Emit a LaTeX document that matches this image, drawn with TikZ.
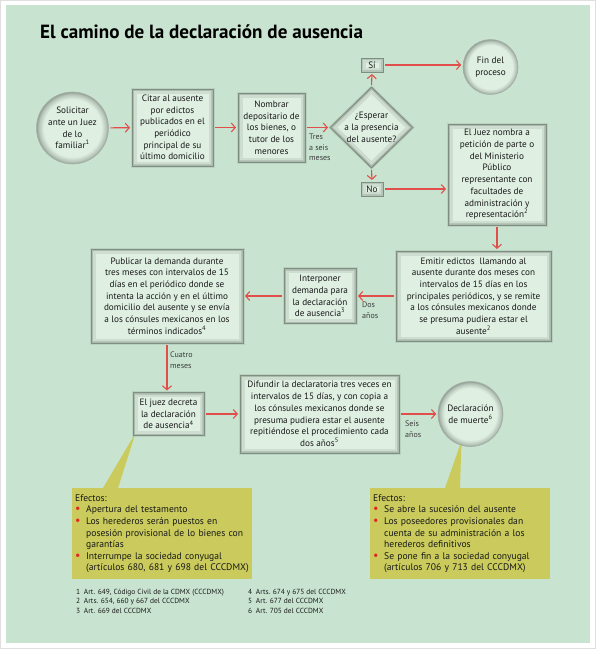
\documentclass[tikz,border=0pt]{standalone}
\usepackage{fontspec}
\setmainfont{PT Sans}
\usepackage{tikz}
\usetikzlibrary{positioning,shapes.geometric,arrows.meta,backgrounds,calc}
\definecolor{pagegreen}{RGB}{200,228,208}
\definecolor{boxfill}{RGB}{223,239,226}
\definecolor{boxedge}{RGB}{128,142,130}
\definecolor{arrowred}{RGB}{226,78,74}
\definecolor{calloutyellow}{RGB}{202,203,92}
\definecolor{bulletred}{RGB}{226,38,38}
\definecolor{textdark}{RGB}{24,24,24}
\newcommand{\bodyfont}{\fontsize{9.2}{11.7}\selectfont}
\newcommand{\effectfont}{\fontsize{9.6}{11.6}\selectfont}
\newcommand{\labelfont}{\fontsize{8}{10.4}\selectfont}
\newcommand{\notefont}{\fontsize{7.4}{9.3}\selectfont}
\newcommand{\efbullet}{\makebox[11pt][l]{\textcolor{bulletred}{\large\textbullet}}}
\newcommand{\efindent}{\hspace*{11pt}}
\pgfdeclareradialshading{ringglow}{\pgfpoint{0bp}{0bp}}{%
  color(0bp)=(boxfill); color(20bp)=(boxfill); color(23.5bp)=(boxedge!45!boxfill);
  color(25bp)=(boxedge!85); color(50bp)=(boxedge!85)}
\tikzset{
  innerglow/.style={path picture={
      \draw[boxedge, opacity=0.18, line width=9pt]
        (path picture bounding box.south west) rectangle (path picture bounding box.north east);
      \draw[boxedge, opacity=0.3, line width=4pt]
        (path picture bounding box.south west) rectangle (path picture bounding box.north east);}},
  stepbox/.style={rectangle, draw=boxedge, line width=1pt, fill=boxfill, text=textdark,
                  inner sep=1pt, align=center, font=\bodyfont, innerglow,
                  postaction={draw=boxedge, draw opacity=0.2, line width=3pt}},
  roundnode/.style={circle, draw=boxedge!70, line width=0.6pt, shading=ringglow,
                    text=textdark, inner sep=0pt, align=center, font=\bodyfont},
  decision/.style={diamond, draw=boxedge, line width=1pt, fill=boxfill,
                   minimum width=83pt, minimum height=81pt, inner sep=0pt,
                   path picture={
                     \draw[boxedge, opacity=0.2, line width=10pt]
                       (path picture bounding box.north) -- (path picture bounding box.east)
                       -- (path picture bounding box.south) -- (path picture bounding box.west) -- cycle;
                     \draw[boxedge, opacity=0.3, line width=4pt]
                       (path picture bounding box.north) -- (path picture bounding box.east)
                       -- (path picture bounding box.south) -- (path picture bounding box.west) -- cycle;},
                   postaction={draw=boxedge, draw opacity=0.2, line width=3pt}},
  answerbox/.style={rectangle, draw=boxedge, line width=1pt, fill=boxfill, text=textdark,
                    font=\bodyfont, minimum width=22pt, minimum height=14pt, inner sep=0pt,
                    innerglow},
  effectbox/.style={rectangle, fill=calloutyellow, minimum width=180pt, minimum height=91pt,
                    text width=174pt, inner sep=3pt, align=left, font=\effectfont,
                    text=textdark, anchor=north west},
  callout/.style={fill=calloutyellow},
  arr/.style={-{Straight Barb[length=4pt,width=9pt]}, arrowred, line width=1.1pt,
              shorten >=1.5pt, shorten <=1.5pt},
  timelabel/.style={font=\labelfont, text=textdark!85, align=left, anchor=north west,
                    inner sep=0pt},
  notetext/.style={font=\notefont, text=textdark, align=left, anchor=north west,
                   inner sep=0pt}
}

\begin{document}
\begin{tikzpicture}[x=1pt, y=-1pt]
  % Page frame
  \begin{scope}[on background layer]
    \fill[white] (0,0) rectangle (596,649);
    \draw[gray!25, line width=1pt] (0.5,0.5) rectangle (595.5,648.5);
    \fill[pagegreen] (6,5) rectangle (590,643);
  \end{scope}

  % Title
  \node[anchor=base west, inner sep=0pt, font=\fontsize{19.1}{22}\selectfont\bfseries,
        text=black] (title) at (40,38) {El camino de la declaración de ausencia};

  % First row
  \node[roundnode, minimum size=72pt] (solicitar) at (72.5,128)
        {Solicitar\\ante un Juez\\de lo\\familiar\textsuperscript{1}};
  \node[stepbox, minimum width=81pt, minimum height=77pt] (citar) at (172.5,127.5)
        {Citar al ausente\\por edictos\\publicados en el\\periódico\\principal de su\\último domicilio};
  \node[stepbox, minimum width=67pt, minimum height=69pt] (nombrar) at (271.5,127.5)
        {Nombrar\\depositario de\\los bienes, o\\tutor de los\\menores};
  \node[decision] (esperar) at (371.5,127.5) {};
  \node[align=center, font=\bodyfont, text=textdark, inner sep=0pt] (esperartxt)
        at (esperar) {¿Esperar\\a la presencia\\del ausente?};
  \node[answerbox] (si) at (372,65) {Sí};
  \node[answerbox] (no) at (372,189) {No};
  \node[roundnode, minimum size=55pt] (fin) at (490.5,67) {Fin del\\proceso};
  \node[stepbox, minimum width=98pt, minimum height=101pt] (juez) at (497,174.5)
        {El Juez nombra a\\petición de parte o\\del Ministerio\\Público\\representante con\\facultades de\\administración y\\representación\textsuperscript{2}};

  % Second row
  \node[stepbox, minimum width=155pt, minimum height=90pt] (emitir) at (473.5,296)
        {Emitir edictos\ \ llamando al\\ausente durante dos meses con\\intervalos de 15 días en los\\principales periódicos, y se remite\\a los cónsules mexicanos donde\\se presuma pudiera estar el\\ausente\textsuperscript{2}};
  \node[stepbox, minimum width=72pt, minimum height=55pt] (interponer) at (320,296)
        {Interponer\\demanda para\\la declaración\\de ausencia\textsuperscript{3}};
  \node[stepbox, minimum width=152pt, minimum height=94pt] (publicar) at (167,296)
        {Publicar la demanda durante\\tres meses con intervalos de 15\\días en el periódico donde se\\intenta la acción y en el último\\domicilio del ausente y se envía\\a los cónsules mexicanos en los\\términos indicados\textsuperscript{4}};

  % Third row
  \node[stepbox, minimum width=71pt, minimum height=43pt] (decreta) at (168.5,414)
        {El juez decreta\\la declaración\\de ausencia\textsuperscript{4}};
  \node[stepbox, minimum width=159pt, minimum height=78pt] (difundir) at (319.5,414)
        {Difundir la declaratoria tres veces en\\intervalos de 15 días, y con copia a\\los cónsules mexicanos donde se\\presuma pudiera estar el ausente\\repitiéndose el procedimiento cada\\dos años\textsuperscript{5}};
  \node[roundnode, minimum size=65pt] (muerte) at (470.5,414)
        {Declaración\\de muerte\textsuperscript{6}};

  % Effects
  \node[effectbox] (efectosa) at (72,488)
        {Efectos:\\
         \efbullet Apertura del testamento\\
         \efbullet Los herederos serán puestos en\\
         \efindent posesión provisional de lo bienes con\\
         \efindent garantías\\
         \efbullet Interrumpe la sociedad conyugal\\
         \efindent (artículos 680, 681 y 698 del CCCDMX)};
  \node[effectbox] (efectosb) at (370,488)
        {Efectos:\\
         \efbullet Se abre la sucesión del ausente\\
         \efbullet Los poseedores provisionales dan\\
         \efindent cuenta de su administración a los\\
         \efindent herederos definitivos\\
         \efbullet Se pone fin a la sociedad conyugal\\
         \efindent (artículos 706 y 713 del CCCDMX)};
  \begin{scope}[on background layer]
    \fill[callout] ([xshift=31pt]efectosa.north west) -- ([xshift=46pt]efectosa.north west)
      -- ([xshift=3pt,yshift=3pt]decreta.south west) -- cycle;
    \fill[callout] ([xshift=75pt]efectosb.north west) -- ([xshift=90pt]efectosb.north west)
      -- ([xshift=-9pt,yshift=6pt]muerte.south) -- cycle;
  \end{scope}

  % Connectors
  \draw[arr] (solicitar) -- (citar);
  \draw[arr] (citar) -- (nombrar);
  \draw[arr] (nombrar) -- (esperar);
  \draw[arr] (esperar.north) -- (si.south);
  \draw[arr] (esperar.south) -- (no.north);
  \draw[arr] (si.east) -- (si.east -| fin.west);
  \draw[arr] (no.east) -- (no.east -| juez.west);
  \draw[arr] (juez.south) -- (juez.south |- emitir.north);
  \draw[arr] (emitir) -- (interponer);
  \draw[arr] (interponer) -- (publicar);
  \draw[arr] (publicar.south) -- (publicar.south |- decreta.north);
  \draw[arr] (decreta) -- (difundir);
  \draw[arr] (difundir) -- (muerte);

  % Time labels
  \node[timelabel] (tres) at (309,134) {Tres\\a seis\\meses};
  \node[timelabel] (dos) at (362,302) {Dos\\años};
  \node[timelabel] (cuatro) at (170,352) {Cuatro\\meses};
  \node[timelabel] (seis) at (405,421) {Seis\\años};

  % Notes
  \node[notetext] (notasa) at (76,589)
        {1\enspace Art. 649, Código Civil de la CDMX (CCCDMX)\\2\enspace Arts. 654, 660 y 667 del CCCDMX\\3\enspace Art. 669 del CCCDMX};
  \node[notetext] (notasb) at (248,589)
        {4\enspace Arts. 674 y 675 del CCCDMX\\5\enspace Art. 677 del CCCDMX\\6\enspace Art. 705 del CCCDMX};
\end{tikzpicture}
\end{document}
